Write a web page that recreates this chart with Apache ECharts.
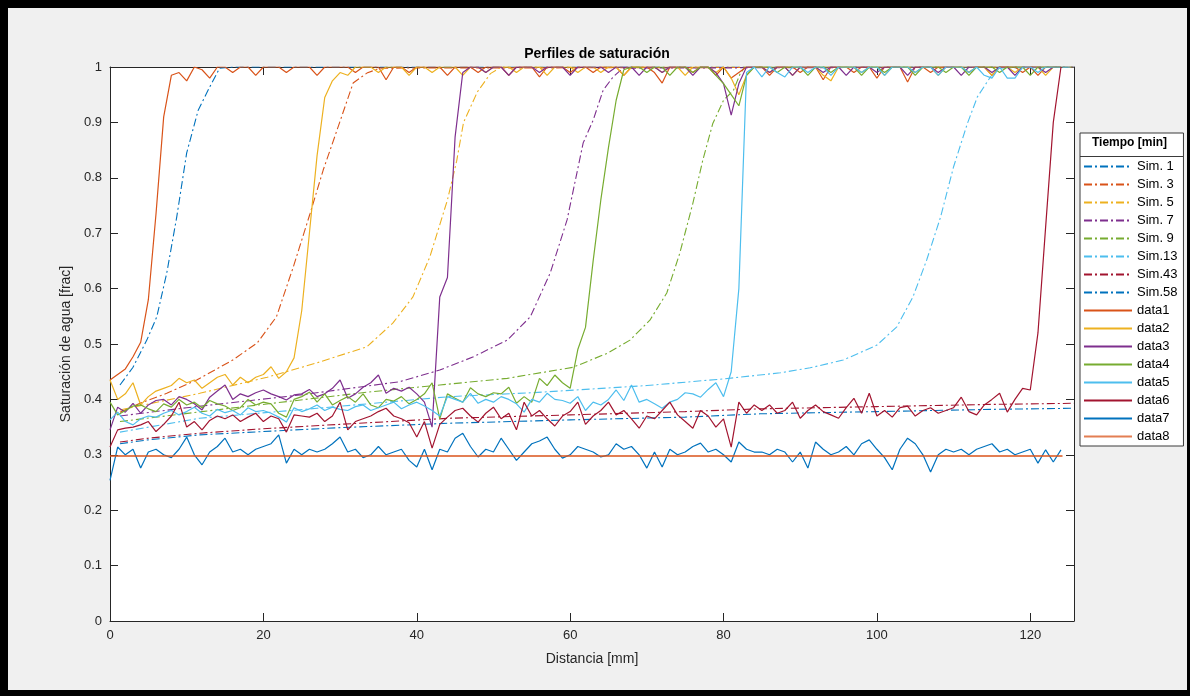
<!DOCTYPE html>
<html>
<head>
<meta charset="utf-8">
<script src="https://cdn.jsdelivr.net/npm/echarts@6/dist/echarts.min.js"></script>
<style>
  html, body { margin: 0; padding: 0; background: #000; width: 1190px; height: 696px; overflow: hidden; }
  #frame { position: absolute; left: 8px; top: 8px; width: 1179px; height: 682px; background: #f0f0f0; }
  #chart { position: absolute; left: 0; top: 0; width: 1190px; height: 696px; }
</style>
</head>
<body>
<div id="frame"></div>
<div id="chart"></div>
<script>
// ---------- DATA ----------
const xData = [0,1,2,3,4,5,6,7,8,9,10,11,12,13,14,15,16,17,18,19,20,21,22,23,24,25,26,27,28,29,30,31,32,33,34,35,36,37,38,39,40,41,42,43,44,45,46,47,48,49,50,51,52,53,54,55,56,57,58,59,60,61,62,63,64,65,66,67,68,69,70,71,72,73,74,75,76,77,78,79,80,81,82,83,84,85,86,87,88,89,90,91,92,93,94,95,96,97,98,99,100,101,102,103,104,105,106,107,108,109,110,111,112,113,114,115,116,117,118,119,120,121,122,123,124];

const sim1X  = [1.3,3,4.8,6.1,7.4,8.7,10,11.5,13,14.3,16,125.7];
const sim1Y  = [0.426,0.458,0.507,0.549,0.628,0.729,0.845,0.922,0.964,0.998,1,1];
const sim3X  = [1.3,3.9,7.4,11.3,16,19.2,21.7,23.9,26.1,27.8,29.6,31.7,33.5,35.2,125.7];
const sim3Y  = [0.377,0.393,0.411,0.435,0.471,0.502,0.549,0.639,0.736,0.814,0.886,0.971,0.989,0.998,1];
const sim5X  = [1.3,11.7,20.5,27,33.5,36.9,39.5,41.7,44,45.2,46.1,47.9,49.6,51,125.7];
const sim5Y  = [0.381,0.411,0.44,0.466,0.495,0.538,0.585,0.657,0.76,0.83,0.9,0.955,0.988,1,1];
const sim7X  = [1.3,10,24.8,37.8,43,47.4,51.8,54.8,57.4,59.6,61.7,63,64.3,65.6,66.9,125.7];
const sim7Y  = [0.37,0.385,0.408,0.432,0.453,0.477,0.507,0.549,0.628,0.724,0.863,0.904,0.958,0.982,0.998,1];
const sim9X  = [1.3,12,33.5,43,51.8,60.4,64.8,67.8,70.4,72.6,74.3,76,77.3,78.6,80,81.3,82.2,82.8,125.7];
const sim9Y  = [0.36,0.378,0.413,0.426,0.438,0.458,0.483,0.507,0.543,0.592,0.664,0.754,0.832,0.898,0.94,0.958,0.989,1,1];
const sim13X = [1.3,11.7,27,44.3,55,70,80,87.4,91.3,95.6,100,102.6,104.7,106.5,108.3,110,111.8,113.1,114.8,115.7,125.7];
const sim13Y = [0.341,0.366,0.384,0.405,0.412,0.425,0.437,0.448,0.457,0.471,0.498,0.531,0.585,0.652,0.729,0.82,0.898,0.946,0.982,0.998,1];
const sim43X = [1.3,5,11.7,20,30,44.3,60,75,84.8,100,115,125.7];
const sim43Y = [0.323,0.33,0.339,0.347,0.355,0.366,0.372,0.378,0.383,0.387,0.391,0.393];
const sim58X = [1.3,5,11.7,20,30,44.3,60,75,84.8,100,115,125.7];
const sim58Y = [0.32,0.327,0.336,0.342,0.349,0.357,0.363,0.368,0.374,0.378,0.382,0.384];

const data1 = [0.435,0.445,0.455,0.477,0.503,0.58,0.735,0.91,0.985,0.99,0.975,
  1,0.995,0.98,1,1,0.99,1,1,0.985,1,
  1,1,0.99,1,1,1,0.985,1,1,1,
  1,0.99,1,1,1,0.977,1,1,0.99,1,
  1,1,1,0.985,1,1,1,0.99,1,1,
  1,0.985,1,1,1,0.982,1,1,1,0.99,
  1,1,0.99,1,1,1,0.985,1,1,1,
  0.99,0.971,1,1,1,0.99,1,1,0.985,1,
  0.98,0.99,1,1,1,0.985,1,1,1,0.99,
  1,1,0.977,1,1,1,0.99,1,1,0.98,
  1,1,1,0.973,1,1,0.99,1,1,1,
  1,0.99,1,1,0.985,1,1,1,0.99,1,
  0.985,1,1,1];
const data2 = [0.435,0.40,0.41,0.43,0.39,0.405,0.415,0.42,0.425,0.438,
  0.43,0.435,0.42,0.43,0.44,0.445,0.426,0.44,0.43,0.44,
  0.445,0.459,0.438,0.45,0.475,
  0.56,0.70,0.84,0.945,0.975,0.99,0.985,1,
  1,1,0.99,1,1,1,0.985,1,1,0.99,
  1,1,1,0.985,1,1,0.99,1,1,1,
  0.99,1,1,1,0.985,1,1,1,0.99,1,
  1,0.99,1,1,0.985,1,1,1,1,0.99,
  1,1,0.985,1,1,1,0.99,1,0.98,0.95,
  0.985,1,1,0.99,1,1,0.985,1,1,1,
  0.985,0.975,1,1,1,0.99,1,1,0.985,1,
  1,1,0.99,1,1,0.985,1,1,1,0.99,
  1,1,0.985,1,1,0.99,1,1,1,0.985,
  1,1];
const data3 = [0.345,0.386,0.377,0.393,0.375,0.39,0.398,0.40,0.39,0.405,
  0.40,0.392,0.381,0.404,0.415,0.426,0.40,0.41,0.405,0.412,
  0.417,0.41,0.405,0.399,0.408,0.41,0.418,0.405,0.41,0.42,
  0.435,0.402,0.41,0.422,0.43,0.444,0.411,0.42,0.415,0.422,
  0.41,0.395,0.35,
  0.585,0.62,0.874,0.99,1,
  1,0.99,1,1,0.985,1,1,1,0.99,1,
  1,1,0.985,1,1,1,1,0.99,1,1,
  1,0.985,1,1,0.99,1,1,1,0.985,1,
  1,0.99,0.97,0.913,0.97,1,1,1,0.99,1,
  1,0.985,1,1,1,0.99,1,1,0.985,1,
  1,1,0.99,1,1,1,0.985,1,1,1,
  0.99,1,1,0.985,1,1,1,0.99,1,1,
  0.985,1,1,1,0.99,1,1];
const data4 = [0.395,0.372,0.38,0.388,0.39,0.383,0.378,0.392,0.386,0.40,
  0.39,0.395,0.385,0.398,0.392,0.388,0.38,0.385,0.40,0.39,
  0.395,0.392,0.375,0.368,0.40,0.405,0.413,0.395,0.41,0.39,
  0.398,0.405,0.395,0.41,0.39,0.385,0.40,0.397,0.405,0.392,
  0.40,0.41,0.43,0.365,0.41,0.402,0.395,0.421,0.41,0.405,
  0.412,0.41,0.422,0.393,0.405,0.395,0.438,0.425,0.444,0.43,
  0.42,
  0.49,0.53,0.65,0.76,0.855,0.94,0.995,1,
  1,0.99,1,1,0.985,1,1,0.99,1,1,
  0.985,0.97,0.95,0.93,0.985,1,1,1,0.99,1,
  1,1,0.985,1,1,0.99,1,1,1,0.985,
  1,1,0.99,1,1,1,0.985,1,1,1,
  0.99,1,1,0.985,1,1,1,0.99,1,1,
  1,0.985,1,1,1,1];
const data5 = [0.363,0.377,0.36,0.354,0.365,0.37,0.368,0.375,0.38,0.372,
  0.378,0.386,0.375,0.37,0.382,0.376,0.38,0.372,0.385,0.378,
  0.38,0.375,0.368,0.359,0.385,0.378,0.383,0.39,0.38,0.386,
  0.382,0.38,0.387,0.39,0.38,0.385,0.39,0.395,0.383,0.39,
  0.395,0.388,0.38,0.37,0.405,0.40,0.395,0.411,0.393,0.40,
  0.395,0.405,0.40,0.392,0.377,0.40,0.395,0.411,0.40,0.398,
  0.393,0.405,0.38,0.395,0.39,0.40,0.417,0.398,0.426,0.395,
  0.40,0.392,0.384,0.395,0.40,0.412,0.41,0.404,0.418,0.43,
  0.405,0.45,0.60,
  0.99,1,0.982,1,0.99,0.982,1,1,0.99,1,
  1,0.985,1,1,1,0.99,1,1,0.985,1,
  1,1,0.99,1,1,0.985,1,1,1,0.99,
  1,0.985,0.98,1,0.98,0.98,1,1,0.99,1,
  1,1];
const data6 = [0.314,0.345,0.348,0.35,0.354,0.36,0.342,0.355,0.37,0.395,
  0.35,0.36,0.345,0.362,0.37,0.365,0.372,0.36,0.368,0.375,
  0.36,0.37,0.365,0.341,0.372,0.37,0.368,0.375,0.36,0.37,
  0.395,0.345,0.36,0.365,0.37,0.378,0.384,0.37,0.365,0.358,
  0.332,0.36,0.312,0.355,0.368,0.38,0.384,0.37,0.359,0.375,
  0.386,0.365,0.375,0.345,0.395,0.37,0.38,0.365,0.352,0.37,
  0.378,0.395,0.355,0.37,0.38,0.395,0.372,0.38,0.365,0.348,
  0.37,0.365,0.38,0.395,0.372,0.36,0.348,0.38,0.37,0.35,
  0.365,0.314,0.395,0.375,0.39,0.38,0.39,0.375,0.38,0.395,
  0.366,0.38,0.39,0.378,0.372,0.366,0.385,0.402,0.375,0.411,
  0.37,0.38,0.368,0.385,0.388,0.37,0.38,0.385,0.375,0.38,
  0.385,0.404,0.378,0.372,0.39,0.40,0.411,0.377,0.40,0.42,
  0.417,0.52,0.711,0.9,1];
const data7 = [0.254,0.314,0.30,0.31,0.276,0.305,0.31,0.30,0.295,0.31,
  0.332,0.30,0.282,0.305,0.315,0.33,0.305,0.31,0.30,0.31,
  0.315,0.32,0.336,0.285,0.31,0.30,0.31,0.305,0.31,0.32,
  0.332,0.305,0.31,0.295,0.30,0.315,0.30,0.305,0.31,0.29,
  0.278,0.31,0.273,0.31,0.305,0.33,0.339,0.315,0.296,0.31,
  0.305,0.33,0.31,0.29,0.305,0.32,0.325,0.332,0.31,0.294,
  0.30,0.315,0.31,0.305,0.296,0.30,0.32,0.31,0.315,0.30,
  0.276,0.305,0.278,0.31,0.30,0.305,0.315,0.321,0.305,0.31,
  0.30,0.287,0.323,0.31,0.305,0.305,0.30,0.31,0.305,0.287,
  0.305,0.276,0.323,0.31,0.30,0.305,0.315,0.30,0.32,0.327,
  0.31,0.295,0.273,0.31,0.33,0.32,0.30,0.269,0.30,0.31,
  0.305,0.31,0.30,0.31,0.315,0.32,0.305,0.31,0.30,0.305,
  0.31,0.285,0.309,0.287,0.309];
const data8X = [0,124.2];
const data8Y = [0.298,0.298];

const xTicks = [0,20,40,60,80,100,120];

// ---------- CHART ----------
const C = {blue:'#0072BD', orange:'#D95319', yellow:'#EDB120', purple:'#7E2F8E',
           green:'#77AC30', lblue:'#4DBEEE', red:'#A2142F'};
const DASHDOT = [8,3,2,3];
const FONT = 'Liberation Sans, Arial, Helvetica, sans-serif';

function pairs(xs, ys){ return ys.map((y,i)=>[xs[i], y]); }
function simS(name, color, xs, ys){
  return {name, type:'line', data:pairs(xs,ys), showSymbol:false, symbol:'none', silent:true,
          lineStyle:{color, width:1.1, type:DASHDOT}, itemStyle:{color}, z:2};
}
function datS(name, color, xs, ys, w, op){
  return {name, type:'line', data:pairs(xs,ys), showSymbol:false, symbol:'none', silent:true,
          lineStyle:{color, width:w||1.2, opacity:op||1}, itemStyle:{color}, z:3};
}

const series = [
  simS('Sim. 1', C.blue, sim1X, sim1Y),
  simS('Sim. 3', C.orange, sim3X, sim3Y),
  simS('Sim. 5', C.yellow, sim5X, sim5Y),
  simS('Sim. 7', C.purple, sim7X, sim7Y),
  simS('Sim. 9', C.green, sim9X, sim9Y),
  simS('Sim.13', C.lblue, sim13X, sim13Y),
  simS('Sim.43', C.red, sim43X, sim43Y),
  simS('Sim.58', C.blue, sim58X, sim58Y),
  datS('data1', C.orange, xData, data1),
  datS('data2', C.yellow, xData, data2),
  datS('data3', C.purple, xData, data3),
  datS('data4', C.green, xData, data4),
  datS('data5', C.lblue, xData, data5),
  datS('data6', C.red, xData, data6),
  datS('data7', C.blue, xData, data7),
  datS('data8', C.orange, data8X, data8Y, 2, 0.75)
];

const axisCol = '#262626';
const tickCommon = {show:true, inside:true, length:8, lineStyle:{color:axisCol}};
const lineCommon = {show:true, onZero:false, lineStyle:{color:axisCol, width:1}};
const chart = echarts.init(document.getElementById('chart'), null, {renderer:'canvas'});
chart.setOption({
  animation:false,
  backgroundColor:'transparent',
  textStyle:{fontFamily:FONT},
  title:{text:'Perfiles de saturación', left:592, textAlign:'center', top:42,
         textStyle:{fontSize:14, fontWeight:'bold', color:'#000', fontFamily:FONT}},
  grid:{left:110, right:116, top:67, bottom:75, show:true, backgroundColor:'#fff', borderWidth:0},
  legend:{
    orient:'vertical', left:1080, top:133,
    padding:[27,6,3,3], itemGap:5, itemWidth:48, itemHeight:14,
    backgroundColor:'#fff', borderColor:'#3a3a3a', borderWidth:1,
    itemStyle:{opacity:0},
    textStyle:{fontSize:13, color:'#000', fontFamily:FONT},
    data:series.map(s=>s.name)
  },
  xAxis:[
    {type:'value', min:0, max:125.7, interval:20, position:'bottom',
     name:'Distancia [mm]', nameLocation:'middle', nameGap:31,
     nameTextStyle:{fontSize:14, color:axisCol, fontFamily:FONT},
     axisLine:lineCommon, axisTick:tickCommon,
     axisLabel:{fontSize:13, color:axisCol, margin:8, fontFamily:FONT,
       formatter:v => xTicks.indexOf(Math.round(v*10)/10) >= 0 ? String(v) : ''},
     splitLine:{show:false}},
    {type:'value', min:0, max:125.7, interval:20, position:'top',
     axisLine:lineCommon, axisTick:tickCommon,
     axisLabel:{show:false}, splitLine:{show:false}}
  ],
  yAxis:[
    {type:'value', min:0, max:1, interval:0.1, position:'left',
     name:'Saturación de agua [frac]', nameLocation:'middle', nameGap:33,
     nameTextStyle:{fontSize:14, color:axisCol, fontFamily:FONT},
     axisLine:lineCommon, axisTick:tickCommon,
     axisLabel:{fontSize:13, color:axisCol, margin:8, fontFamily:FONT,
       formatter:v => String(Math.round(v*10)/10)},
     splitLine:{show:false}},
    {type:'value', min:0, max:1, interval:0.1, position:'right',
     axisLine:lineCommon, axisTick:tickCommon,
     axisLabel:{show:false}, splitLine:{show:false}}
  ],
  graphic:[
    {type:'text', left:1092, top:137, z:100,
     style:{text:'Tiempo [min]', font:'bold 12px ' + FONT, fill:'#000'}},
    {type:'line', z:100, shape:{x1:1080, y1:156.5, x2:1183, y2:156.5},
     style:{stroke:'#3a3a3a', lineWidth:1}}
  ],
  series
});
</script>
</body>
</html>
